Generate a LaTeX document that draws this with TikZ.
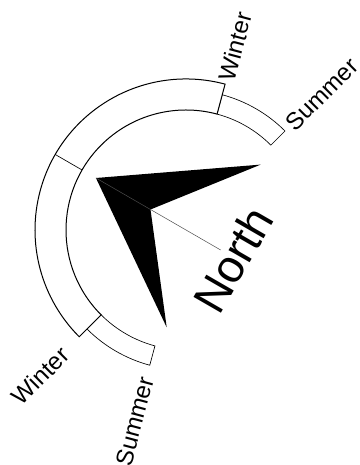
\documentclass[tikz,border=0pt]{standalone}
\usepackage{fontspec}
\setmainfont{Liberation Sans}
\begin{document}
\begin{tikzpicture}[x=1pt,y=1pt,
  winterband/.style={draw=black,line width=1pt,fill=white},
  summerband/.style={draw=black,line width=0.65pt,fill=white},
  seasonlabel/.style={inner sep=0pt,font=\fontsize{24}{28}\selectfont},
  northlabel/.style={inner sep=0pt,font=\fontsize{46}{52}\selectfont},
  needle/.style={fill=black,draw=none}]
\useasboundingbox (0,0) rectangle (359,465);
\begin{scope}[shift={(186,235)},rotate=60]
  % summer bands
  \draw[summerband] (15:140pt) arc[start angle=15,end angle=-15,radius=140pt]
     -- (-15:120pt) arc[start angle=-15,end angle=15,radius=120pt] -- cycle;
  \draw[summerband] (165:140pt) arc[start angle=165,end angle=195,radius=140pt]
     -- (195:120pt) arc[start angle=195,end angle=165,radius=120pt] -- cycle;
  % winter band
  \draw[winterband] (15:151pt) arc[start angle=15,end angle=165,radius=151pt]
     -- (165:120pt) arc[start angle=165,end angle=15,radius=120pt] -- cycle;
  \draw[line width=0.65pt] (90:120pt) -- (90:151pt);
  % needle
  \coordinate (tip) at (0,104);
  \coordinate (rwing) at (94,-32);
  \coordinate (notch) at (0,41);
  \coordinate (lwing) at (-94,-32);
  \coordinate (lineend) at (0,-40);
  \fill[needle] (tip) -- (rwing) -- (notch) -- (lwing) -- cycle;
  \draw[line width=0.5pt,black!70] (tip) -- (lineend);
  % labels
  \node[northlabel,anchor=base,rotate=60] (north) at (-2,-72) {North};
  \node[seasonlabel,rotate=75] (winterA) at (15:190pt) {Winter};
  \node[seasonlabel,rotate=45] (summerA) at (-15:192pt) {Summer};
  \node[seasonlabel,rotate=45] (winterB) at (165:206pt) {Winter};
  \node[seasonlabel,rotate=75] (summerB) at (195:198pt) {Summer};
\end{scope}
\end{tikzpicture}
\end{document}
